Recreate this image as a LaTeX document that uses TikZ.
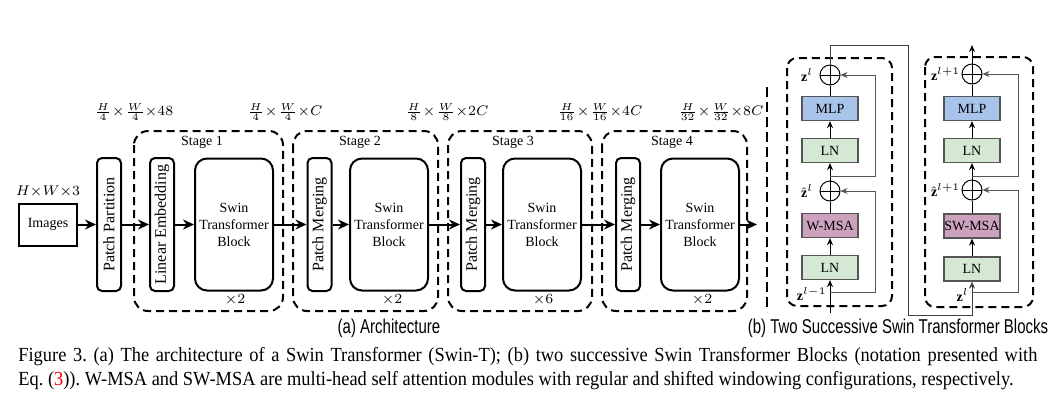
\documentclass[tikz,border=0pt]{standalone}
\usepackage{fontspec}
\setmainfont{Liberation Serif}
\setsansfont{Liberation Sans}
\usetikzlibrary{arrows.meta}

\definecolor{mlpblue}{HTML}{A9C4EB}
\definecolor{lngreen}{HTML}{D5E8D4}
\definecolor{msapink}{HTML}{CDA2BE}
\definecolor{boxgray}{HTML}{555555}

\begin{document}
\frenchspacing
\begin{tikzpicture}[x=0.5pt, y=-0.5pt,
			font=\fontsize{7}{8.5}\selectfont,
			arr/.style={-{Stealth[length=5.5pt, width=5pt]}, line width=1pt},
			thin arr/.style={-{Stealth[length=3.5pt, width=3pt]}, line width=0.5pt},
			skip/.style={thin arr, draw=boxgray},
			slim box/.style={draw, line width=1pt, rounded corners=2.5pt, rotate=90, minimum width=66.5pt, minimum height=12pt, inner sep=0pt, font=\fontsize{8}{9}\selectfont},
			swin box/.style={draw, line width=1pt, rounded corners=6pt, minimum width=39pt, minimum height=66pt, align=center, inner sep=0pt},
			stage frame/.style={line width=1pt, dash pattern=on 4pt off 2.5pt, rounded corners=7pt},
			block frame/.style={line width=1pt, dash pattern=on 4pt off 2.5pt, rounded corners=5pt},
			layer/.style={draw=boxgray, line width=0.6pt, minimum width=28pt, minimum height=12pt, inner sep=0pt},
			add/.style={circle, draw, line width=0.5pt, minimum size=10pt, inner sep=0pt,
				path picture={\draw[line width=0.5pt] (path picture bounding box.north) -- (path picture bounding box.south)
					(path picture bounding box.west) -- (path picture bounding box.east);}},
			dim/.style={font=\fontsize{7.5}{8}\selectfont},
			vec/.style={font=\fontsize{7}{8}\selectfont, inner sep=1pt},
			sub cap/.style={font=\sffamily\fontsize{10}{12}\selectfont},
			cap line/.style={anchor=west, inner sep=0pt, font=\fontsize{10}{12}\selectfont}
			]
			\useasboundingbox (0,0) rectangle (1056,404);
			
			\node[draw, line width=1pt, minimum width=29pt, minimum height=21pt, inner sep=0pt] (img) at (48,224.5) {Images};
			\node[font=\fontsize{7.5}{9}\selectfont] (hw) at (48,192) {$H{\times}W{\times}3$};
			\node[slim box] (pp) at (109,224.5) {Patch Partition};
			
			\draw[stage frame] (134,131) rectangle (283,311);
			\draw[stage frame] (293,131) rectangle (438,311);
			\draw[stage frame] (448,131) rectangle (592,311);
			\draw[stage frame] (602,131) rectangle (747,311);
			
			\node[slim box] (le) at (162,224.5) {Linear Embedding};
			\node[swin box] (stb1) at (234,224.5) {Swin\\Transformer\\Block};
			\node[slim box] (pm2) at (319.5,224.5) {Patch Merging};
			\node[swin box] (stb2) at (389,224.5) {Swin\\Transformer\\Block};
			\node[slim box] (pm3) at (473,224.5) {Patch Merging};
			\node[swin box] (stb3) at (542,224.5) {Swin\\Transformer\\Block};
			\node[slim box] (pm4) at (628,224.5) {Patch Merging};
			\node[swin box] (stb4) at (700,224.5) {Swin\\Transformer\\Block};
			\coordinate (out4) at (757,224.5);
			
			\node (s1) at (202,142) {Stage 1};
			\node (s2) at (360,142) {Stage 2};
			\node (s3) at (513,142) {Stage 3};
			\node (s4) at (672,142) {Stage 4};
			\node (n1) at (235,300) {$\times2$};
			\node (n2) at (392,300) {$\times2$};
			\node (n3) at (543,300) {$\times6$};
			\node (n4) at (702,300) {$\times2$};
			
			\node[dim] (d1) at (134,112) {$\frac{H}{4}\!\times\!\frac{W}{4}{\times}48$};
			\node[dim] (d2) at (285,112) {$\frac{H}{4}\!\times\!\frac{W}{4}{\times}C$};
			\node[dim] (d3) at (447,112) {$\frac{H}{8}\!\times\!\frac{W}{8}{\times}2C$};
			\node[dim] (d4) at (600,112) {$\frac{H}{16}\!\times\!\frac{W}{16}{\times}4C$};
			\node[dim] (d5) at (721,112) {$\frac{H}{32}\!\times\!\frac{W}{32}{\times}8C$};
			
			\draw[arr] (img) -- (pp);
			\draw[arr] (pp) -- (le);
			\draw[arr] (le) -- (stb1);
			\draw[arr] (stb1) -- (pm2);
			\draw[arr] (pm2) -- (stb2);
			\draw[arr] (stb2) -- (pm3);
			\draw[arr] (pm3) -- (stb3);
			\draw[arr] (stb3) -- (pm4);
			\draw[arr] (pm4) -- (stb4);
			\draw[arr] (stb4) -- (out4);
			
			\draw[line width=1.3pt, dash pattern=on 5pt off 2.5pt] (767,87) -- (767,312);
			
			% block l
			\draw[block frame] (787,58) rectangle (892,306);
			\node[add] (a1) at (830,75) {};
			\node[layer, fill=mlpblue] (mlp1) at (830,108.5) {MLP};
			\node[layer, fill=lngreen] (ln12) at (830,150.5) {LN};
			\node[add] (a2) at (830,191) {};
			\node[layer, fill=msapink] (msa1) at (830,225.5) {W-MSA};
			\node[layer, fill=lngreen] (ln11) at (830,267.5) {LN};
			\coordinate (in1) at (830,313);
			\coordinate (r11) at (830,292);
			\coordinate (r12) at (830,176);
			\node[vec, anchor=east, inner sep=3pt] (z1) at (a1.west) {$\mathbf{z}^l$};
			\node[vec, anchor=east, inner sep=3pt] (zh1) at (a2.west) {$\hat{\mathbf{z}}^l$};
			\node[vec, anchor=east] (z0) at (829,294) {$\mathbf{z}^{l-1}$};
			
			\draw[thin arr] (in1) -- (ln11);
			\draw[thin arr] (ln11) -- (msa1);
			\draw[line width=0.5pt] (msa1) -- (a2);
			\draw[thin arr] (a2) -- (ln12);
			\draw[thin arr] (ln12) -- (mlp1);
			\draw[line width=0.5pt] (mlp1) -- (a1);
			\draw[skip] (r11) -- ++(45,0) |- (a2);
			\draw[skip] (r12) -- ++(45,0) |- (a1);
			
			% block l+1
			\draw[block frame] (925,57) rectangle (1033,307);
			\node[add] (a3) at (972,74) {};
			\node[layer, fill=mlpblue] (mlp2) at (972,108.5) {MLP};
			\node[layer, fill=lngreen] (ln22) at (972,150.5) {LN};
			\node[add] (a4) at (972,190) {};
			\node[layer, fill=msapink] (msa2) at (972,226) {SW-MSA};
			\node[layer, fill=lngreen] (ln21) at (972,269) {LN};
			\coordinate (out2) at (972,45);
			\coordinate (r21) at (972,292);
			\coordinate (r22) at (972,176);
			\node[vec, anchor=east, inner sep=0.5pt] (z3) at (a3.west) {$\mathbf{z}^{l+1}$};
			\node[vec, anchor=east, inner sep=0.5pt] (zh3) at (a4.west) {$\hat{\mathbf{z}}^{l+1}$};
			\node[vec, anchor=east] (z2) at (971,295) {$\mathbf{z}^{l}$};
			
			\draw[thin arr, draw=black!75] (a1) -- ++(0,-30) -| (908,315) -| (ln21);
			\draw[thin arr] (ln21) -- (msa2);
			\draw[line width=0.5pt] (msa2) -- (a4);
			\draw[thin arr] (a4) -- (ln22);
			\draw[thin arr] (ln22) -- (mlp2);
			\draw[line width=0.5pt] (mlp2) -- (a3);
			\draw[thin arr] (a3) -- (out2);
			\draw[skip] (r21) -- ++(46,0) |- (a4);
			\draw[skip] (r22) -- ++(46,0) |- (a3);
			
			\node[sub cap] (capa) at (389,328) {\scalebox{0.75}[1]{(a) Architecture}};
			\node[sub cap] (capb) at (898,328) {\scalebox{0.75}[1]{(b) Two Successive Swin Transformer Blocks}};
			\node[cap line] (cap1) at (18,357) {\scalebox{0.92}[1]{\makebox[553.8pt][s]{Figure 3. (a) The architecture of a Swin Transformer (Swin-T); (b) two successive Swin Transformer Blocks (notation presented with}}};
			\node[cap line] (cap2) at (18,381) {\scalebox{0.92}[1]{Eq. (\textcolor{red}{3})). W-MSA and SW-MSA are multi-head self attention modules with regular and shifted windowing configurations, respectively.}};
		\end{tikzpicture}
\end{document}
